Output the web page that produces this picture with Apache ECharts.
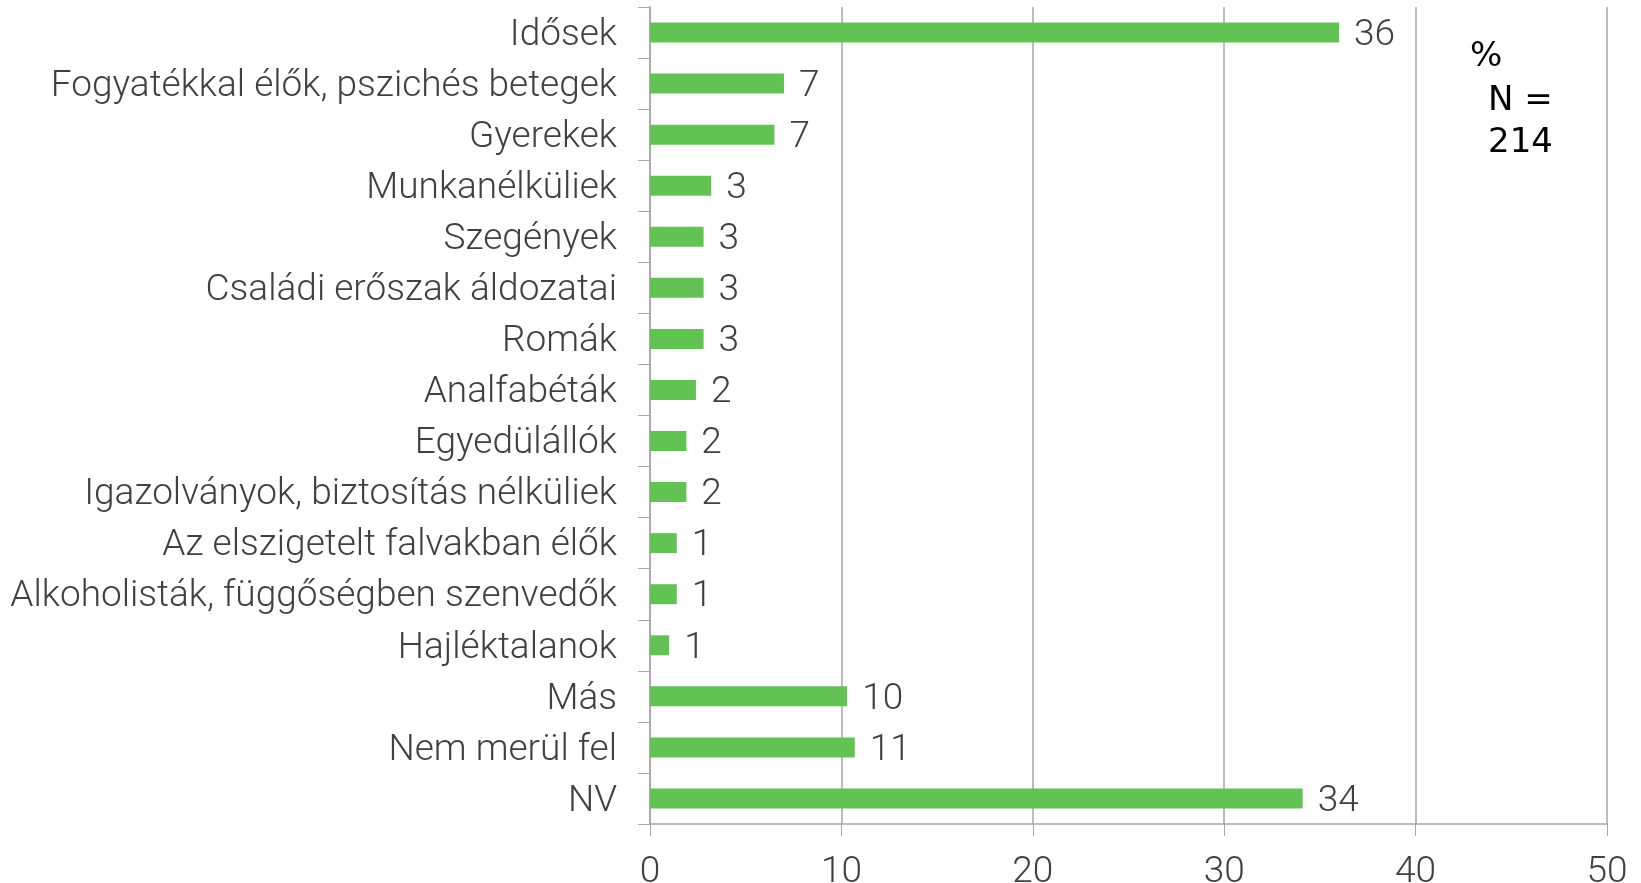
<!DOCTYPE html>
<html>
<head>
<meta charset="utf-8">
<script src="https://cdn.jsdelivr.net/npm/echarts@6/dist/echarts.min.js"></script>
<style>
  html, body { margin: 0; padding: 0; background: #fff; }
  #chart { width: 1641px; height: 883px; }
</style>
</head>
<body>
<div id="chart"></div>
<script>
var categories = [
    'Idősek',
    'Fogyatékkal élők, pszichés betegek',
    'Gyerekek',
    'Munkanélküliek',
    'Szegények',
    'Családi erőszak áldozatai',
    'Romák',
    'Analfabéták',
    'Egyedülállók',
    'Igazolványok, biztosítás nélküliek',
    'Az elszigetelt falvakban élők',
    'Alkoholisták, függőségben szenvedők',
    'Hajléktalanok',
    'Más',
    'Nem merül fel',
    'NV'
];
var values = [36.0, 7.0, 6.5, 3.2, 2.8, 2.8, 2.8, 2.4, 1.9, 1.9, 1.4, 1.4, 1.0, 10.3, 10.7, 34.1];
var xTicks = [0, 50, 10];
var noteLines = ['%', 'N =', '214'];

var labelFont = 'Roboto, "Liberation Sans", sans-serif';
var textColor = '#404040';
var lineColor = '#a6a6a6';

var chart = echarts.init(document.getElementById('chart'));
chart.setOption({
    animation: false,
    grid: {
        left: 650,
        right: 34,
        top: 7,
        bottom: 59,
        containLabel: false,
        outerBoundsMode: 'none'
    },
    xAxis: {
        type: 'value',
        min: xTicks[0],
        max: xTicks[1],
        interval: xTicks[2],
        axisLine: {show: true, lineStyle: {color: lineColor, width: 1.5}},
        axisTick: {show: true, length: 12, lineStyle: {color: lineColor}},
        splitLine: {show: true, lineStyle: {color: lineColor, width: 1.5}},
        axisLabel: {
            margin: 30,
            fontFamily: labelFont,
            fontWeight: 300,
            fontSize: 37,
            color: textColor
        }
    },
    yAxis: {
        type: 'category',
        inverse: true,
        data: categories,
        axisLine: {show: true, lineStyle: {color: lineColor, width: 1.5}},
        axisTick: {show: true, length: 12, alignWithLabel: false, lineStyle: {color: lineColor}},
        axisLabel: {
            margin: 33,
            fontFamily: labelFont,
            fontWeight: 300,
            fontSize: 37,
            color: textColor,
            formatter(v) {
                return '{c|' + v + '}';
            },
            rich: {
                c: {
                    padding: [6, 0, 0, 0],
                    fontFamily: labelFont,
                    fontWeight: 300,
                    fontSize: 37,
                    color: textColor
                }
            }
        }
    },
    series: [{
        type: 'bar',
        data: values,
        barWidth: 20,
        itemStyle: {color: '#62c354'},
        label: {
            show: true,
            position: 'right',
            distance: 15,
            offset: [0, 3],
            fontFamily: labelFont,
            fontWeight: 300,
            fontSize: 37,
            color: textColor,
            formatter(p) {
                return Math.round(p.value);
            }
        }
    }],
    graphic: [
        {type: 'text', left: 1470, top: 40, style: {text: noteLines[0], font: '34px "DejaVu Sans"', fill: '#000'}},
        {type: 'text', left: 1488, top: 84, style: {text: noteLines[1], font: '34px "DejaVu Sans"', fill: '#000'}},
        {type: 'text', left: 1488, top: 126, style: {text: noteLines[2], font: '34px "DejaVu Sans"', fill: '#000'}}
    ]
});
</script>
</body>
</html>
